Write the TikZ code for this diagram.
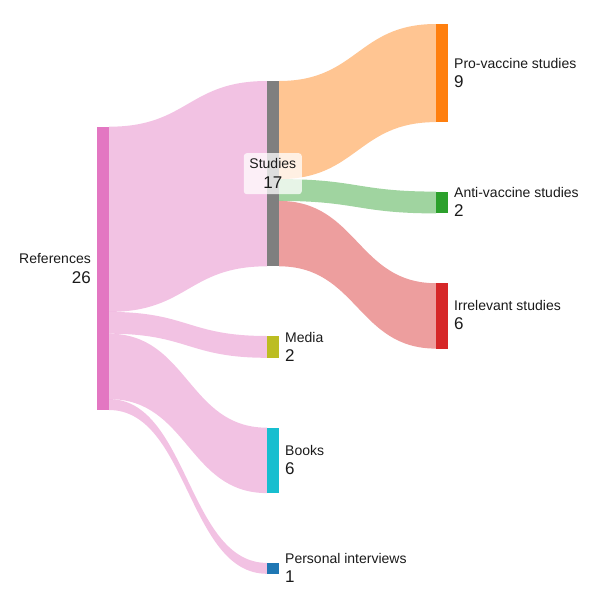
\documentclass[tikz,border=0pt]{standalone}
\usepackage{fontspec}
\setmainfont{Liberation Sans}
\definecolor{refc}{HTML}{E377C2}
\definecolor{stuc}{HTML}{7F7F7F}
\definecolor{medc}{HTML}{BCBD22}
\definecolor{booc}{HTML}{17BECF}
\definecolor{perc}{HTML}{1F77B4}
\definecolor{proc}{HTML}{FF7F0E}
\definecolor{antc}{HTML}{2CA02C}
\definecolor{irrc}{HTML}{D62728}
\definecolor{txt}{HTML}{1A1A1A}
\tikzset{
  barnode/.style={draw=none, inner sep=0pt, outer sep=0pt, minimum width=12pt, anchor=north west},
  nametext/.style={font=\fontsize{14}{16}\selectfont, inner sep=0pt, text=txt},
  valtext/.style={font=\fontsize{17}{19}\selectfont, inner sep=0pt, text=txt},
  bandfill/.style={fill opacity=0.45}
}
% band: x1, y1top, y1bot, x2, y2top, y2bot, colour
\newcommand\skband[7]{%
  \fill[bandfill, fill=#7] (#1,#2) .. controls ({(#1+#4)/2},#2) and ({(#1+#4)/2},#5) .. (#4,#5)
    -- (#4,#6) .. controls ({(#1+#4)/2},#6) and ({(#1+#4)/2},#3) .. (#1,#3) -- cycle;}
\begin{document}
\begin{tikzpicture}[x=1pt,y=-1pt]
\useasboundingbox (0,0) rectangle (600,600);
% links from References
\skband{109}{126.7}{311.9}{267}{81}{266.3}{refc}
\skband{109}{311.9}{333.7}{267}{336}{357.8}{refc}
\skband{109}{333.7}{399.1}{267}{427.7}{493.1}{refc}
\skband{109}{399.1}{410}{267}{562.9}{573.8}{refc}
% links from Studies
\skband{279}{81}{179.1}{436}{24}{122.1}{proc}
\skband{279}{179.1}{200.9}{436}{191.6}{213.4}{antc}
\skband{279}{200.9}{266.3}{436}{283.2}{348.6}{irrc}
% bars
\node[barnode, fill=refc, minimum height=283.3pt] (ref) at (97,126.7) {};
\node[barnode, fill=stuc, minimum height=185.3pt] (stu) at (267,81) {};
\node[barnode, fill=medc, minimum height=21.8pt] (med) at (267,336) {};
\node[barnode, fill=booc, minimum height=65.4pt] (boo) at (267,427.7) {};
\node[barnode, fill=perc, minimum height=10.9pt] (per) at (267,562.9) {};
\node[barnode, fill=proc, minimum height=98.1pt] (pro) at (436,24) {};
\node[barnode, fill=antc, minimum height=21.8pt] (ant) at (436,191.6) {};
\node[barnode, fill=irrc, minimum height=65.4pt] (irr) at (436,283.2) {};
% labels
\node[nametext, anchor=base east] (refN) at (91,263) {References};
\node[valtext, anchor=base east] (refV) at (91,283) {26};
\node[draw=none, fill=white, fill opacity=0.75, rounded corners=3pt, minimum width=58pt, minimum height=41pt, inner sep=0pt] (stuBox) at (272.8,173.7) {};
\node[nametext, anchor=base] (stuN) at (272.8,168.8) {Studies};
\node[valtext, anchor=base] (stuV) at (272.8,188) {17};
\node[nametext, anchor=base west] (medN) at (285,342) {Media};
\node[valtext, anchor=base west] (medV) at (285,361) {2};
\node[nametext, anchor=base west] (booN) at (285,455.4) {Books};
\node[valtext, anchor=base west] (booV) at (285,474.4) {6};
\node[nametext, anchor=base west] (perN) at (285,563.3) {Personal interviews};
\node[valtext, anchor=base west] (perV) at (285,582.3) {1};
\node[nametext, anchor=base west] (proN) at (454,68) {Pro-vaccine studies};
\node[valtext, anchor=base west] (proV) at (454,87) {9};
\node[nametext, anchor=base west] (antN) at (454,197.5) {Anti-vaccine studies};
\node[valtext, anchor=base west] (antV) at (454,216.5) {2};
\node[nametext, anchor=base west] (irrN) at (454,310.9) {Irrelevant studies};
\node[valtext, anchor=base west] (irrV) at (454,329.9) {6};
\end{tikzpicture}
\end{document}
